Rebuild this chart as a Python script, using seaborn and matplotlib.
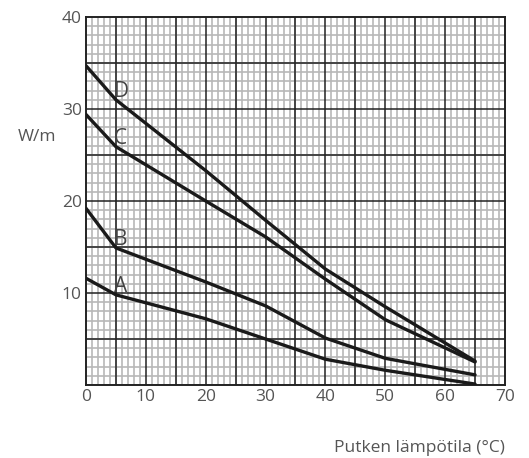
import numpy as np
import pandas as pd
import seaborn as sns
import matplotlib.pyplot as plt
from matplotlib.ticker import MultipleLocator

# pipe temperature (°C) and heat output (W/m) for curves A-D
temps_c = [0, 5, 20, 30, 40, 50, 65]
curve_a = [11.6, 9.8, 7.2, 5.0, 2.8, 1.6, 0.1]
curve_b = [19.2, 14.9, 11.2, 8.6, 5.1, 2.9, 1.1]
curve_c = [29.4, 25.9, 20.0, 16.1, 11.5, 7.1, 2.5]
curve_d = [34.7, 31.0, 23.3, 17.9, 12.6, 8.5, 2.6]
curve_names = ["A", "B", "C", "D"]
x_ticks = [0, 10, 20, 30, 40, 50, 60, 70]
y_ticks = [10, 20, 30, 40]

rows = []
for name, vals in zip(curve_names, [curve_a, curve_b, curve_c, curve_d]):
    for t, v in zip(temps_c, vals):
        rows.append({"Curve": name, "Temp": t, "W/m": v})
df = pd.DataFrame(rows)

sns.set_style("white")
plt.rcParams["font.family"] = ["Open Sans", "DejaVu Sans"]

fig = plt.figure(figsize=(5.29, 4.58), dpi=100)
ax = fig.add_axes([0.1626, 0.1594, 0.792, 0.8035])

sns.lineplot(
    data=df,
    x="Temp",
    y="W/m",
    hue="Curve",
    palette=["#1a1a1a"] * 4,
    linewidth=2.4,
    legend=False,
    ax=ax,
    zorder=5,
)

ax.set_xlim(0, 70)
ax.set_ylim(0, 40)
# graph paper: light lines every 1, dark lines every 5
ax.xaxis.set_minor_locator(MultipleLocator(1))
ax.yaxis.set_minor_locator(MultipleLocator(1))
ax.grid(which="minor", color="#b8b8b8", linewidth=1.2)
ax.grid(which="major", visible=False)
ax.set_axisbelow(True)
for v in np.arange(5, 70, 5):
    ax.axvline(v, color="#222222", linewidth=1.1, zorder=2)
for v in np.arange(5, 40, 5):
    ax.axhline(v, color="#222222", linewidth=1.1, zorder=2)

ax.set_xticks(x_ticks)
ax.set_yticks(y_ticks)
ax.tick_params(which="both", length=0, labelsize=12.5, labelcolor="#555555", pad=3)

for s in ax.spines.values():
    s.set_color("#222222")
    s.set_linewidth(1.4)

ax.set_xlabel("")
ax.set_ylabel("")
fig.text(0.069, 0.70, "W/m", fontsize=12.5, color="#555555", ha="center", va="center")
fig.text(0.9546, 0.013, "Putken lämpötila (°C)", fontsize=12.5, color="#555555",
         ha="right", va="baseline")

# curve labels at the knee
for name, vals in zip(curve_names, [curve_a, curve_b, curve_c, curve_d]):
    ax.text(4.6, vals[1] - 0.2, name, fontsize=15, color="#444444",
            ha="left", va="bottom", zorder=6)

fig.savefig("out.png", dpi=100)
